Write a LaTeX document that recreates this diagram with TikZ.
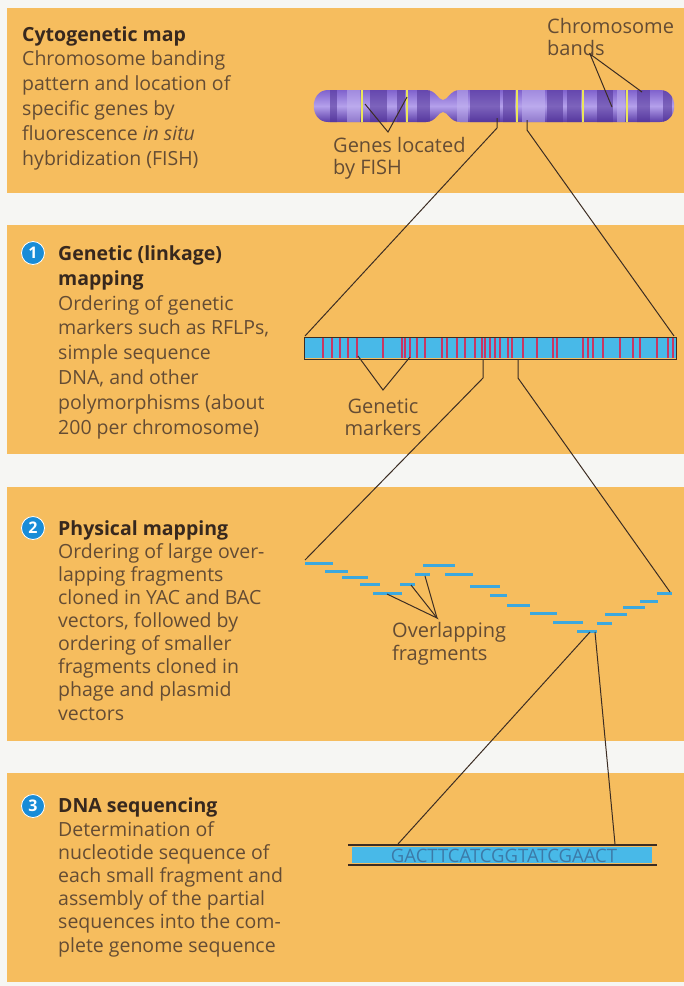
\documentclass[tikz,border=0pt]{standalone}
\usepackage{fontspec}
\setmainfont{Open Sans}

% 颜色
\definecolor{panel}{RGB}{246,189,94}
\definecolor{gapwhite}{RGB}{246,246,243}
\definecolor{headtext}{RGB}{55,40,30}
\definecolor{bodytext}{RGB}{100,76,52}
\definecolor{linedark}{RGB}{60,45,35}
\definecolor{numblue}{RGB}{25,140,215}
\definecolor{chromtop}{RGB}{128,98,205}
\definecolor{chrommid}{RGB}{180,160,235}
\definecolor{chrombot}{RGB}{92,62,168}
\definecolor{chromdark}{RGB}{80,50,150}
\definecolor{chromlight}{RGB}{195,180,240}
\definecolor{bandyellow}{RGB}{235,230,90}
\definecolor{barblue}{RGB}{72,185,232}
\definecolor{markred}{RGB}{200,55,100}
\definecolor{fragblue}{RGB}{60,168,222}
\definecolor{seqtext}{RGB}{60,122,168}

\newcommand\chromshape{(328,90) -- (426,90) .. controls (436,90) and (438,100) .. (443,100)
  .. controls (448,100) and (450,90) .. (460,90) -- (660,90)
  .. controls (679,90) and (679,122) .. (660,122) -- (460,122)
  .. controls (450,122) and (448,112) .. (443,112)
  .. controls (438,112) and (436,122) .. (426,122) -- (328,122)
  .. controls (309,122) and (309,90) .. (328,90) -- cycle}

\begin{document}
\begin{tikzpicture}[x=1pt,y=-1pt,
  txt/.style={inner sep=0pt,align=left,anchor=base west,text=bodytext,font=\fontsize{19.5}{24.8}\selectfont},
  lbl/.style={inner sep=0pt,anchor=base west,text=bodytext,font=\fontsize{20}{22}\selectfont},
  numdot/.style={circle,fill=numblue,draw=white,line width=0.8,text=white,
    font=\fontsize{16}{16}\selectfont\bfseries,inner sep=0pt,minimum size=23},
  conn/.style={draw=linedark,line width=1},
  frag/.style={draw=fragblue,line width=3},
  marker/.style={draw=markred,line width=1.6}]
  \useasboundingbox (0,0) rectangle (684,986);
  % 背景和四个面板
  \fill[gapwhite] (0,0) rectangle (684,986);
  \fill[panel] (7,8) rectangle (684,193);
  \fill[panel] (7,225) rectangle (684,454);
  \fill[panel] (7,487) rectangle (684,741);
  \fill[panel] (7,773) rectangle (684,982);

  % 左侧文字（节点的 base 在最后一行）
  \node[txt] (cyto) at (22,165) {{\bfseries\color{headtext}Cytogenetic map}\\Chromosome banding\\pattern and location of\\specific genes by\\fluorescence \textit{in situ}\\hybridization (FISH)};
  \node[numdot] (n1) at (33,253) {1};
  \node[txt] (linkage) at (58,434) {{\bfseries\color{headtext}Genetic (linkage)}\\{\bfseries\color{headtext}mapping}\\Ordering of genetic\\markers such as RFLPs,\\simple sequence\\DNA, and other\\polymorphisms (about\\200 per chromosome)};
  \node[numdot] (n2) at (33,528) {2};
  \node[txt,font=\fontsize{19.5}{23.1}\selectfont] (physical) at (58,720) {{\bfseries\color{headtext}Physical mapping}\\Ordering of large over-\\lapping fragments\\cloned in YAC and BAC\\vectors, followed by\\ordering of smaller\\fragments cloned in\\phage and plasmid\\vectors};
  \node[numdot] (n3) at (33,806) {3};
  \node[txt,font=\fontsize{19.5}{23.2}\selectfont] (sequencing) at (58,952) {{\bfseries\color{headtext}DNA sequencing}\\Determination of\\nucleotide sequence of\\each small fragment and\\assembly of the partial\\sequences into the com-\\plete genome sequence};

  % 染色体
  \shade[top color=chromtop,bottom color=chrombot,middle color=chrommid] \chromshape;
  \begin{scope}
    \clip \chromshape;
    \foreach \a/\b in {330/337,370/387,397/405,417/430,470/500,503/515,547/563,567/581,597/613,637/650,663/672}
      \fill[chromdark,opacity=.55] (\a,86) rectangle (\b,126);
    \foreach \a/\b in {347/360,457/468,522/545,617/625}
      \fill[chromlight,opacity=.5] (\a,86) rectangle (\b,126);
    \foreach \x in {362,407,517,583,627}
      \draw[bandyellow,line width=2] (\x,86) -- (\x,126);
  \end{scope}
  \node[lbl] (bands) at (547,33) {Chromosome};
  \node[lbl] (bandsb) at (547,55) {bands};
  \node[lbl] (fish) at (333,152) {Genes located};
  \node[lbl] (fishb) at (333,174) {by FISH};
  \coordinate (bandv) at (590,54);
  \coordinate (band1) at (612,107);
  \coordinate (band2) at (642,92);
  \coordinate (fishv) at (388,132);
  \coordinate (gene1) at (365,104);
  \coordinate (gene2) at (407,97);
  \draw[conn] (band1) -- (bandv) -- (band2);
  \draw[conn] (gene1) -- (fishv) -- (gene2);

  % 遗传图谱
  \fill[barblue] (304,338) rectangle (676,358);
  \foreach \x in {323,332,340,348,357,383,402,405,410,417,425,442,447,457,465,475,482,485,490,495,500,508,512,523,537,553,557,583,588,593,603,620,633,640,657,668,673}
    \draw[marker] (\x,338) -- (\x,358);
  \draw[linedark,line width=1] (304,337) rectangle (676,359);
  \node[lbl,anchor=base] (markers) at (383,413) {Genetic};
  \node[lbl,anchor=base] (markersb) at (383,435) {markers};
  \coordinate (markv) at (383,390);
  \coordinate (mark1) at (358,356);
  \coordinate (mark2) at (410,357);
  \draw[conn] (mark1) -- (markv) -- (mark2);

  % 染色体 -> 遗传图谱
  \coordinate (chrL) at (497,118);
  \coordinate (chrLk) at (497,128);
  \coordinate (chrR) at (527,120);
  \coordinate (chrRk) at (527,130);
  \coordinate (mapL) at (305,336);
  \coordinate (mapR) at (674,336);
  \draw[conn] (chrL) -- (chrLk) -- (mapL);
  \draw[conn] (chrR) -- (chrRk) -- (mapR);

  % 重叠片段
  \foreach \a/\b/\y in {305/333/563,325/348/571,342/368/577,360/380/584,373/402/593,423/455/565,415/430/574,445/473/574,400/415/584,470/500/586,490/507/595,507/530/605,530/557/613,553/583/622,577/597/631,597/612/623,605/627/614,623/645/607,640/658/601,657/672/593}
    \draw[frag] (\a,\y) -- (\b,\y);
  \node[lbl] (overlap) at (392,637) {Overlapping};
  \node[lbl] (overlapb) at (392,660) {fragments};
  \coordinate (fragv) at (437,618);
  \coordinate (frag1) at (387,594);
  \coordinate (frag2) at (411,585);
  \coordinate (frag3) at (425,576);
  \draw[conn] (frag1) -- (fragv) -- (frag2);
  \draw[conn] (fragv) -- (frag3);

  % 遗传图谱 -> 片段
  \coordinate (mkL) at (483,359);
  \coordinate (mkLk) at (483,378);
  \coordinate (mkR) at (518,359);
  \coordinate (mkRk) at (518,378);
  \coordinate (frL) at (305,560);
  \coordinate (frR) at (670,592);
  \draw[conn] (mkL) -- (mkLk) -- (frL);
  \draw[conn] (mkR) -- (mkRk) -- (frR);

  % DNA 序列
  \fill[barblue] (352,847) rectangle (652,863);
  \draw[linedark,line width=1.2] (348,845) -- (657,845);
  \draw[linedark,line width=1.2] (348,865) -- (657,865);
  \node[inner sep=0pt,text=seqtext,font=\fontsize{18.5}{18.5}\selectfont] (seq) at (504,856) {GACTTCATCGGTATCGAACT};

  % 片段 -> 序列
  \coordinate (smL) at (590,632);
  \coordinate (smR) at (595,632);
  \coordinate (seqL) at (398,844);
  \coordinate (seqR) at (615,844);
  \draw[conn] (smL) -- (seqL);
  \draw[conn] (smR) -- (seqR);
\end{tikzpicture}
\end{document}
